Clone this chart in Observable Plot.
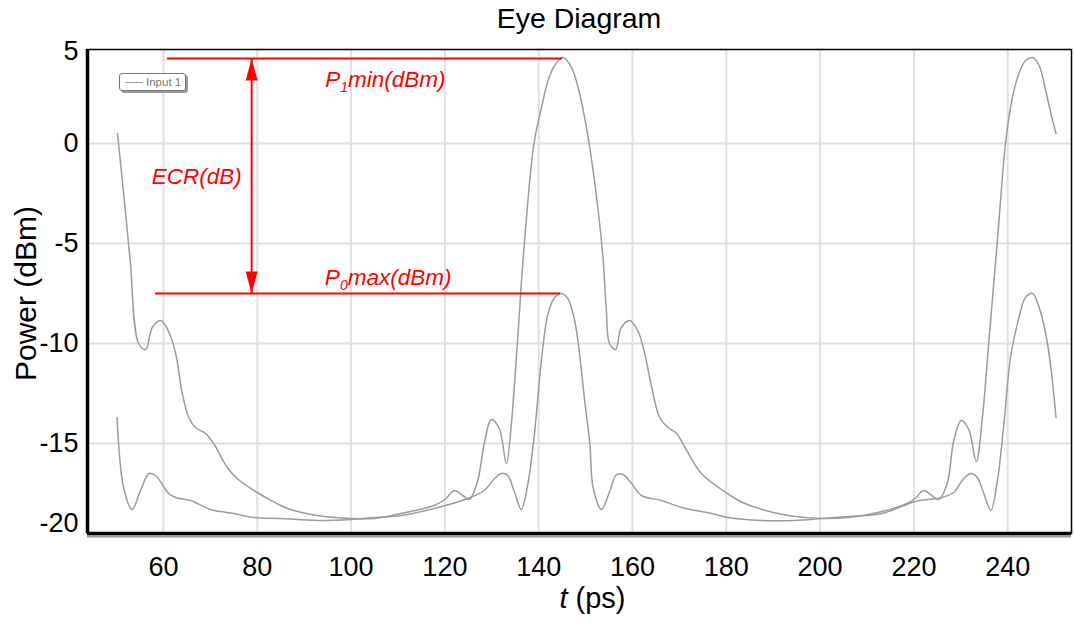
<!DOCTYPE html>
<html>
<head>
<meta charset="utf-8">
<script src="https://cdn.jsdelivr.net/npm/d3@7"></script>
<script src="https://cdn.jsdelivr.net/npm/@observablehq/plot@0.6"></script>
<style>
  body { margin: 0; background: #fff; font-family: "Liberation Sans", Arial, sans-serif; }
  #wrap { position: relative; width: 1074px; height: 626px; overflow: hidden; }
  #title { box-sizing: border-box; width: 1074px; height: 36px; line-height: 36px; padding-left: 87px; padding-right: 3px;
           text-align: center; font-size: 28.5px; color: #000; }
  #legend { position: absolute; left: 119px; top: 73px; width: 67px; height: 18px; box-sizing: border-box;
            border: 1.5px solid #777; border-radius: 3px; background: #fff; box-shadow: 2px 2px 0 #9a9a9a;
            display: flex; align-items: center; font-size: 11.5px; color: #7a7a7a; white-space: nowrap; }
  #legend .sw { display: inline-block; width: 18px; height: 0; border-top: 1.5px solid #9c9c9c; margin: 0 3px 0 5px; }
  svg { display: block; }
</style>
</head>
<body>
<div id="wrap">
  <div id="title">Eye Diagram</div>
  <div id="chart"></div>
  <div id="legend"><span class="sw"></span><span>Input 1</span></div>
</div>
<script>
// ---------- data ----------
const traceNames = ["upper", "lower"];

// upper trace (the "1" level excursion)
const upperT = [50.2, 51.5, 52.9, 54.7, 56.2, 57.6, 59.4, 61.1, 62.6, 64.0, 65.4, 66.8, 69.0, 70.7, 73.6, 75.7, 79.3, 82.2, 85.0, 87.1,
  92.8, 100.0, 105.0, 110.6, 117.7, 120.0, 122.0, 123.8, 125.2, 127.0, 128.4, 129.9, 131.6, 133.1, 134.1, 135.3, 136.3, 137.0, 138.1, 139.1,
  140.6, 142.0, 143.4, 145.2, 147.0, 148.4, 149.8, 151.2, 152.6, 153.7, 154.4, 155.1, 156.4, 157.6, 159.4, 161.2, 162.6, 164.1, 165.8, 167.6,
  169.4, 171.2, 174.7, 179.0, 182.6, 187.6, 193.2, 200.3, 206.0, 213.2, 217.5, 220.0, 222.1, 223.8, 225.3, 227.1, 228.5, 230.1, 231.7, 233.3,
  234.6, 236.0, 237.8, 239.6, 241.0, 242.4, 243.8, 245.3, 246.7, 248.1, 249.2, 250.3];
const upperP = [0.5, -2.5, -5.85, -10.0, -10.3, -9.2, -8.85, -9.4, -10.5, -12.5, -13.7, -14.2, -14.5, -15.0, -16.2, -16.75, -17.35, -17.75, -18.1, -18.3,
  -18.6, -18.75, -18.75, -18.5, -18.1, -17.8, -17.35, -17.6, -17.8, -16.85, -15.0, -13.8, -14.25, -16.0, -14.2, -10.5, -7.0, -4.85, -1.85, 0.15,
  1.8, 3.15, 3.9, 4.3, 3.8, 2.8, 1.3, -0.7, -3.2, -5.7, -8.2, -10.0, -10.3, -9.2, -8.85, -9.4, -10.5, -12.2, -13.7, -14.2,
  -14.5, -15.2, -16.5, -17.3, -17.85, -18.3, -18.6, -18.75, -18.7, -18.4, -18.1, -17.8, -17.35, -17.6, -17.8, -17.0, -14.85, -13.85, -14.3, -15.9,
  -13.7, -9.85, -4.85, 0.15, 2.3, 3.5, 4.15, 4.3, 3.9, 2.65, 1.5, 0.5];

// lower trace (the "0" level excursion)
const lowerT = [50.1, 51.5, 53.3, 55.1, 56.9, 58.3, 61.1, 62.6, 65.8, 70.0, 75.0, 79.3, 85.0, 92.8, 100.0, 105.0, 110.6, 117.7, 124.9, 128.4,
  130.6, 132.0, 133.4, 134.8, 136.3, 137.7, 139.1, 140.6, 142.0, 143.4, 144.8, 146.2, 147.7, 148.7, 149.8, 150.9, 151.6, 153.4, 155.2, 156.6,
  158.0, 159.8, 161.9, 166.2, 170.5, 176.9, 180.4, 187.6, 194.7, 200.3, 206.0, 213.2, 220.3, 226.0, 228.5, 230.3, 232.1, 233.5, 234.9, 236.4,
  237.8, 239.2, 240.6, 242.4, 243.8, 245.3, 246.7, 248.1, 249.2, 250.3];
const lowerP = [-13.7, -17.2, -18.3, -17.35, -16.5, -16.6, -17.5, -17.7, -17.85, -18.3, -18.5, -18.7, -18.75, -18.85, -18.8, -18.7, -18.6, -18.25, -17.75, -17.35,
  -16.75, -16.5, -16.6, -17.4, -18.3, -17.0, -14.5, -10.8, -8.5, -7.7, -7.5, -7.75, -8.9, -10.5, -12.85, -15.0, -17.2, -18.3, -17.35, -16.55,
  -16.55, -17.0, -17.6, -17.85, -18.2, -18.5, -18.7, -18.85, -18.85, -18.75, -18.65, -18.5, -17.9, -17.7, -17.45, -16.85, -16.5, -16.7, -17.5, -18.35,
  -16.85, -14.0, -10.7, -8.7, -7.7, -7.5, -8.2, -9.5, -11.2, -13.7];

// axes
const xDomain = [43.8, 253.6];
const yDomain = [-19.5, 4.7];
const xTicks = [60, 80, 100, 120, 140, 160, 180, 200, 220, 240];
const yGrid = [0, -5, -10, -15];
const yTickPos = [4.6, 0, -5, -10, -15, -19.0];
const yTickLabels = ["5", "0", "-5", "-10", "-15", "-20"];

// annotations
const levelNames = ["P1min", "P0max"];
const levelValues = [4.25, -7.5];
const levelStart = [60.85, 58.3];
const levelEnd = [145.1, 144.7];
const ecrX = 78.8;
const annoText = ["P1min(dBm)", "P0max(dBm)", "ECR(dB)"];
const annoX = [107.3, 107.9, 67.1];
const annoY = [3.2, -6.7, -1.65];

// ---------- build tables ----------
const traces = [
  ...upperT.map((t, i) => ({trace: traceNames[0], t, p: upperP[i]})),
  ...lowerT.map((t, i) => ({trace: traceNames[1], t, p: lowerP[i]}))
];
const levels = levelNames.map((n, i) => ({name: n, y: levelValues[i], x1: levelStart[i], x2: levelEnd[i]}));
const arrowLine = [{x: ecrX, y1: levelValues[0], y2: levelValues[1]}];
const annos = annoText.map((s, i) => ({text: s, x: annoX[i], y: annoY[i]}));

const upHead = {draw(ctx) { ctx.moveTo(0, 0); ctx.lineTo(-6, 22); ctx.lineTo(6, 22); ctx.closePath(); }};
const downHead = {draw(ctx) { ctx.moveTo(0, 0); ctx.lineTo(-6, -22); ctx.lineTo(6, -22); ctx.closePath(); }};

const FONT = "'Liberation Sans', Arial, Helvetica, sans-serif";

const plot = Plot.plot({
  width: 1074,
  height: 590,
  marginLeft: 87,
  marginRight: 3,
  marginTop: 13,
  marginBottom: 93,
  x: {domain: xDomain, label: null},
  y: {domain: yDomain, label: null},
  style: {fontFamily: FONT, fontSize: "27px", color: "#000", background: "#fff", overflow: "visible"},
  marks: [
    Plot.ruleX(xTicks, {stroke: "#e0e0e0", strokeWidth: 2}),
    Plot.ruleY(yGrid, {stroke: "#e0e0e0", strokeWidth: 2}),
    Plot.line(traces, {x: "t", y: "p", z: "trace", stroke: "#9c9c9c", strokeWidth: 1.5, curve: "catmull-rom"}),
    Plot.ruleY(levels, {y: "y", x1: "x1", x2: "x2", stroke: "#ff0000", strokeWidth: 2}),
    Plot.ruleX(arrowLine, {x: "x", y1: "y1", y2: "y2", stroke: "#ff0000", strokeWidth: 2}),
    Plot.dot([{x: ecrX, y: levelValues[0]}], {x: "x", y: "y", symbol: upHead, fill: "#ff0000", stroke: "none"}),
    Plot.dot([{x: ecrX, y: levelValues[1]}], {x: "x", y: "y", symbol: downHead, fill: "#ff0000", stroke: "none"}),
    Plot.text(annos, {x: "x", y: "y", text: "text", fill: "#ff0000", fontSize: 22.5, fontStyle: "italic", textAnchor: "middle"}),
    Plot.frame({stroke: "#000", strokeWidth: 1.5}),
    Plot.ruleY([yDomain[0]], {stroke: "#9a9a9a", strokeWidth: 2, dy: 3}),
    Plot.ruleY([yDomain[0]], {stroke: "#000", strokeWidth: 3.5}),
    Plot.ruleX([xDomain[0]], {stroke: "#000", strokeWidth: 3.5}),
    Plot.axisX(xTicks, {tickSize: 0, tickPadding: 23, fontSize: 27, label: null}),
    Plot.axisY(yTickPos, {tickSize: 0, tickPadding: 9, fontSize: 27, label: null,
      tickFormat: d => yTickLabels[yTickPos.indexOf(d)]}),
    Plot.text(["Power (dBm)"], {frameAnchor: "left", dx: -61, dy: 2, rotate: -90, textAnchor: "middle", fontSize: 30}),
    Plot.text(["t (ps)"], {frameAnchor: "bottom", dy: 74, dx: 13, textAnchor: "middle", fontSize: 29})
  ]
});

// subscripts and italic variable
d3.select(plot).selectAll("text").each(function () {
  const s = this.textContent;
  const m = /^P([01])(.*)$/.exec(s);
  if (m) {
    this.textContent = "";
    const el = d3.select(this);
    el.append("tspan").text("P");
    el.append("tspan").attr("font-size", "14px").attr("dy", "5").text(m[1]);
    el.append("tspan").attr("dy", "-5").text(m[2]);
  } else if (s === "t (ps)") {
    this.textContent = "";
    const el = d3.select(this);
    el.append("tspan").attr("font-style", "italic").text("t");
    el.append("tspan").text(" (ps)");
  }
});

document.getElementById("chart").appendChild(plot);
</script>
</body>
</html>
